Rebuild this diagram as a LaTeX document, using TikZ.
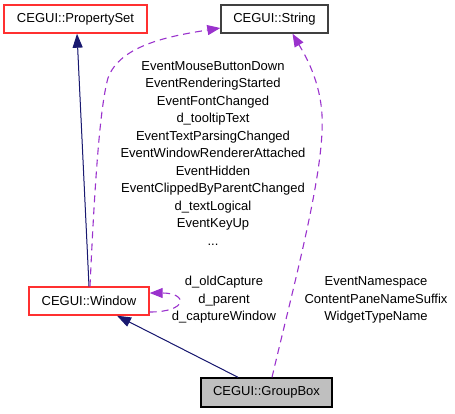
\documentclass[tikz,border=0pt]{standalone}
\usepackage{fontspec}
\setmainfont{Liberation Sans}
\usetikzlibrary{arrows.meta}
\definecolor{inh}{HTML}{191970}
\definecolor{usage}{HTML}{9A32CD}
\definecolor{boxred}{HTML}{FF3030}
\definecolor{boxgray}{HTML}{404040}
\definecolor{fillgray}{HTML}{BFBFBF}
\tikzset{
  cls/.style={draw, line width=1.4pt, minimum height=28pt, inner sep=0pt, font=\fontsize{13}{17.5}\selectfont},
  lbl/.style={align=center, inner sep=0pt, font=\fontsize{13}{17.5}\selectfont},
  inhedge/.style={draw=inh, line width=1pt, -{Triangle[length=14pt,width=10pt]}, fill=inh},
  useedge/.style={draw=usage, line width=1.1pt, dash pattern=on 7pt off 5pt, -{Triangle[length=13pt,width=10pt,fill=usage]}}
}
\begin{document}
\begin{tikzpicture}[x=1pt,y=-1pt]
\useasboundingbox (0,0) rectangle (455,413);
\node[cls, draw=boxred, minimum width=143pt] (ps) at (75.5,19) {CEGUI::PropertySet};
\node[cls, draw=boxgray, minimum width=107pt] (str) at (274.5,19) {CEGUI::String};
\node[cls, draw=boxred, minimum width=120pt] (win) at (89,301) {CEGUI::Window};
\node[cls, draw=black, fill=fillgray, minimum width=131pt, minimum height=29pt] (gb) at (266.5,392.5) {CEGUI::GroupBox};

\node[lbl] (lbig) at (213,153.5) {EventMouseButtonDown\\EventRenderingStarted\\EventFontChanged\\d\_tooltipText\\EventTextParsingChanged\\EventWindowRendererAttached\\EventHidden\\EventClippedByParentChanged\\d\_textLogical\\EventKeyUp\\...};
\node[lbl] (lself) at (224,300) {d\_oldCapture\\d\_parent\\d\_captureWindow};
\node[lbl] (lgb) at (376,300) {EventNamespace\\ContentPaneNameSuffix\\WidgetTypeName};

\draw[inhedge] (win.north) -- ([xshift=1.5pt]ps.south);
\draw[inhedge] ([xshift=-28.5pt]gb.north) -- ([xshift=28pt]win.south);

\draw[useedge] ([xshift=1pt]win.north) .. controls (94,200) and (99,110) .. (108,78)
  .. controls (120,45) and (170,36) .. ([yshift=-9pt]str.west);
\draw[useedge] ([xshift=5.5pt]gb.north) .. controls (295,280) and (325,170) .. (322,115)
  .. controls (320,80) and (305,55) .. ([xshift=18pt]str.south);
\draw[useedge] ([yshift=-11pt]win.east) .. controls (188,312) and (188,293) .. ([yshift=8pt]win.east);
\end{tikzpicture}
\end{document}
